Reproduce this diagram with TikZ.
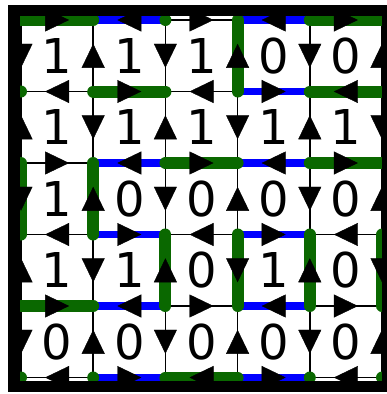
\documentclass[tikz,border=0pt]{standalone}
\usepackage{fontspec}
\newfontfamily\digitfont{DejaVu Sans}
\usetikzlibrary{arrows.meta,decorations.markings}
\definecolor{loopgreen}{HTML}{0A6800}
\definecolor{loopblue}{HTML}{0000FF}

\tikzset{
  lattice/.style={line width=1.5pt},
  greenedge/.style={draw=loopgreen,line width=12pt,line cap=round},
  blueedge/.style={draw=loopblue,line width=7.5pt},
  arrowmark/.style={decoration={markings,mark=at position 0.5 with {\arrow[xshift=12pt]{Triangle[length=24pt,width=23pt]}}},postaction=decorate},
  cellnum/.style={font=\digitfont\fontsize{48}{48}\selectfont,inner sep=0pt}
}

\begin{document}
\begin{tikzpicture}[x=1pt,y=-1pt]
    \useasboundingbox (0,0) rectangle (387,394);
    \foreach \i in {0,...,5}
      \foreach \j in {0,...,5}
        \coordinate (v-\i-\j) at (21+72.2*\i,20+71.5*\j);
    \foreach \k in {0,...,5}{
      \draw[lattice] (v-0-\k) -- (v-5-\k);
      \draw[lattice] (v-\k-0) -- (v-\k-5);
    }
    \foreach \a/\b in {1-0/2-0,3-0/4-0,3-1/4-1,1-2/2-2,3-2/4-2,1-3/2-3,3-3/4-3,1-4/2-4,3-4/4-4,1-5/2-5,3-5/4-5}
      \draw[blueedge] (v-\a) -- (v-\b);
    \foreach \a/\b in {0-0/1-0,4-0/5-0,1-1/2-1,4-1/5-1,2-2/3-2,4-2/5-2,0-4/1-4,2-5/3-5,
                       3-0/3-1,0-2/0-3,1-2/1-3,2-3/2-4,3-3/3-4,4-3/4-4,5-3/5-4}
      \draw[greenedge] (v-\a) -- (v-\b);
    \foreach \a in {2-0,0-1,0-5,1-5,4-5,5-5}
      \fill[loopgreen] (v-\a) circle (6pt);
    \foreach \i in {0,...,4}
      \foreach \j in {0,...,5}{
        \pgfmathtruncatemacro\ii{\i+1}
        \ifodd\numexpr\i+\j\relax
          \path[arrowmark] (v-\ii-\j) -- (v-\i-\j);
        \else
          \path[arrowmark] (v-\i-\j) -- (v-\ii-\j);
        \fi
      }
    \foreach \i in {0,...,5}
      \foreach \j in {0,...,4}{
        \pgfmathtruncatemacro\jj{\j+1}
        \ifodd\numexpr\i+\j\relax
          \path[arrowmark] (v-\i-\jj) -- (v-\i-\j);
        \else
          \path[arrowmark] (v-\i-\j) -- (v-\i-\jj);
        \fi
      }
    \foreach \row [count=\r from 0] in {{1,1,1,0,0},{1,1,1,1,1},{1,0,0,0,0},{1,1,0,1,0},{0,0,0,0,0}}
      \foreach \d [count=\c from 0] in \row
        \node[cellnum] (n-\c-\r) at (57.1+72.2*\c,55.75+71.5*\r) {\d};
    \draw[line width=11.5pt] (14,10.5) rectangle (388,386.5);
  \end{tikzpicture}
\end{document}
